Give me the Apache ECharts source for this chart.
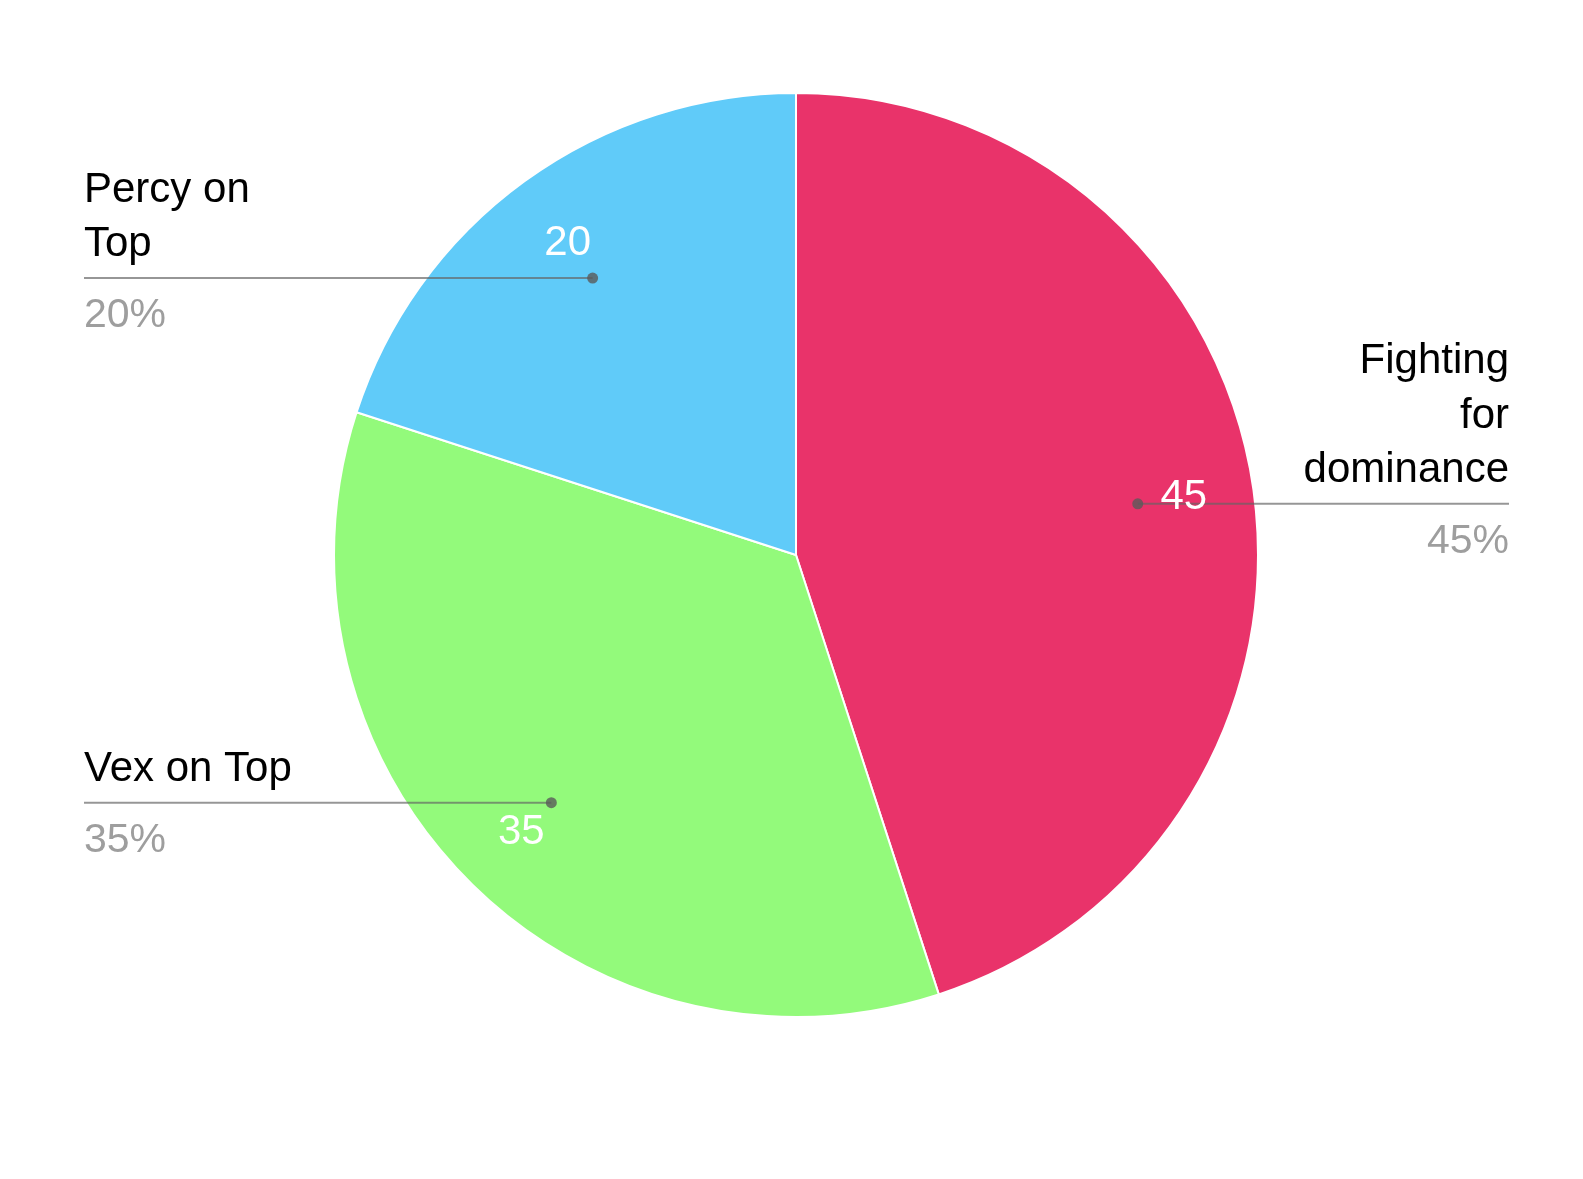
<!DOCTYPE html>
<html>
<head>
<meta charset="utf-8">
<script src="https://cdn.jsdelivr.net/npm/echarts@6/dist/echarts.min.js"></script>
<style>
  html, body { margin: 0; padding: 0; background: #fff; }
  #chart { width: 1583px; height: 1179px; }
</style>
</head>
<body>
<div id="chart"></div>
<script>
// ---- data ----
const CATEGORIES = ['Fighting for dominance', 'Vex on Top', 'Percy on Top'];
const VALUES = [45, 35, 20];
const NAME_LABELS = ['Fighting\nfor\ndominance', 'Vex on Top', 'Percy on\nTop'];
const COLORS = ['#E9336A', '#93FA7B', '#60CBF9'];

// ---- layout / style ----
const CENTER = [796, 555];
const LABEL_CENTER = [796, 558];
const R = 462;
const LABEL_R = 346;
const LEFT_EDGE = 84;
const RIGHT_EDGE = 74;
const VALUE_OFFSETS = [[46, -6], [-30, 30], [-25, -35]];
const FONT = '"Liberation Sans", Arial, Helvetica, sans-serif';
const LINE_COLOR = 'rgba(100,100,100,0.68)';
const DOT_COLOR = 'rgba(90,90,90,0.8)';

const chart = echarts.init(document.getElementById('chart'), null, { renderer: 'canvas' });
const W = 1583;

const baseData = CATEGORIES.map((n, i) => ({ name: n, value: VALUES[i] }));
const transparentData = baseData.map(d => ({ name: d.name, value: d.value, itemStyle: { color: 'rgba(0,0,0,0)' } }));

function edgeLayout(vAlign) {
  return function (p) {
    const pts = p.labelLinePoints;
    if (!pts) return {};
    const x0 = pts[0][0], y0 = pts[0][1];
    const left = x0 < LABEL_CENTER[0];
    const ex = left ? LEFT_EDGE : W - RIGHT_EDGE;
    return {
      x: ex,
      y: y0,
      align: left ? 'left' : 'right',
      verticalAlign: vAlign,
      labelLinePoints: [[x0, y0], [x0, y0], [ex, y0]]
    };
  };
}

const common = {
  type: 'pie',
  startAngle: 90,
  clockwise: true,
  silent: true,
  avoidLabelOverlap: false,
  emphasis: { disabled: true },
  animation: false
};

const option = {
  backgroundColor: '#fff',
  animation: false,
  series: [
    Object.assign({}, common, {
      z: 2,
      center: CENTER,
      radius: [0, R],
      data: baseData.map((d, i) => ({ name: d.name, value: d.value, itemStyle: { color: COLORS[i] } })),
      itemStyle: { borderColor: '#fff', borderWidth: 2 },
      label: { show: false },
      labelLine: { show: false }
    }),
    Object.assign({}, common, {
      z: 5,
      center: LABEL_CENTER,
      radius: [0, LABEL_R],
      data: transparentData,
      label: {
        show: true, position: 'outside', alignTo: 'edge', edgeDistance: LEFT_EDGE,
        formatter: p => NAME_LABELS[p.dataIndex],
        color: '#000', fontSize: 42, lineHeight: 54.5, fontFamily: FONT,
        padding: [0, 0, 6, 0]
      },
      labelLine: { show: true, length: 1, length2: 1, lineStyle: { color: LINE_COLOR, width: 2 } },
      labelLayout: edgeLayout('bottom')
    }),
    Object.assign({}, common, {
      z: 5,
      center: LABEL_CENTER,
      radius: [0, LABEL_R],
      data: transparentData,
      label: {
        show: true, position: 'outside', alignTo: 'edge', edgeDistance: LEFT_EDGE,
        formatter: p => Math.round(p.percent) + '%',
        color: '#9E9E9E', fontSize: 41, lineHeight: 54, fontFamily: FONT,
        padding: [11, 0, 0, 0]
      },
      labelLine: { show: true, length: 1, length2: 1, lineStyle: { color: 'rgba(0,0,0,0)', width: 0 } },
      labelLayout: edgeLayout('top')
    }),
    Object.assign({}, common, {
      z: 6,
      center: LABEL_CENTER,
      radius: [0, 2 * LABEL_R - 6],
      data: transparentData,
      label: {
        show: true, position: 'inside',
        formatter: p => String(p.value),
        color: '#fff', fontSize: 42, fontFamily: FONT
      },
      labelLine: { show: false },
      labelLayout: function (p) {
        const off = VALUE_OFFSETS[p.dataIndex];
        const r = p.labelRect;
        return {
          x: r.x + r.width / 2 + off[0],
          y: r.y + r.height / 2 + off[1],
          align: 'center', verticalAlign: 'middle'
        };
      }
    }),
    Object.assign({}, common, {
      z: 7,
      center: LABEL_CENTER,
      radius: [0, 2 * LABEL_R - 6],
      data: transparentData,
      label: {
        show: true, position: 'inside',
        formatter: '{dot| }',
        rich: { dot: { width: 11, height: 11, borderRadius: 6, backgroundColor: DOT_COLOR, fontSize: 2 } }
      },
      labelLine: { show: false }
    })
  ]
};

chart.setOption(option);
</script>
</body>
</html>
